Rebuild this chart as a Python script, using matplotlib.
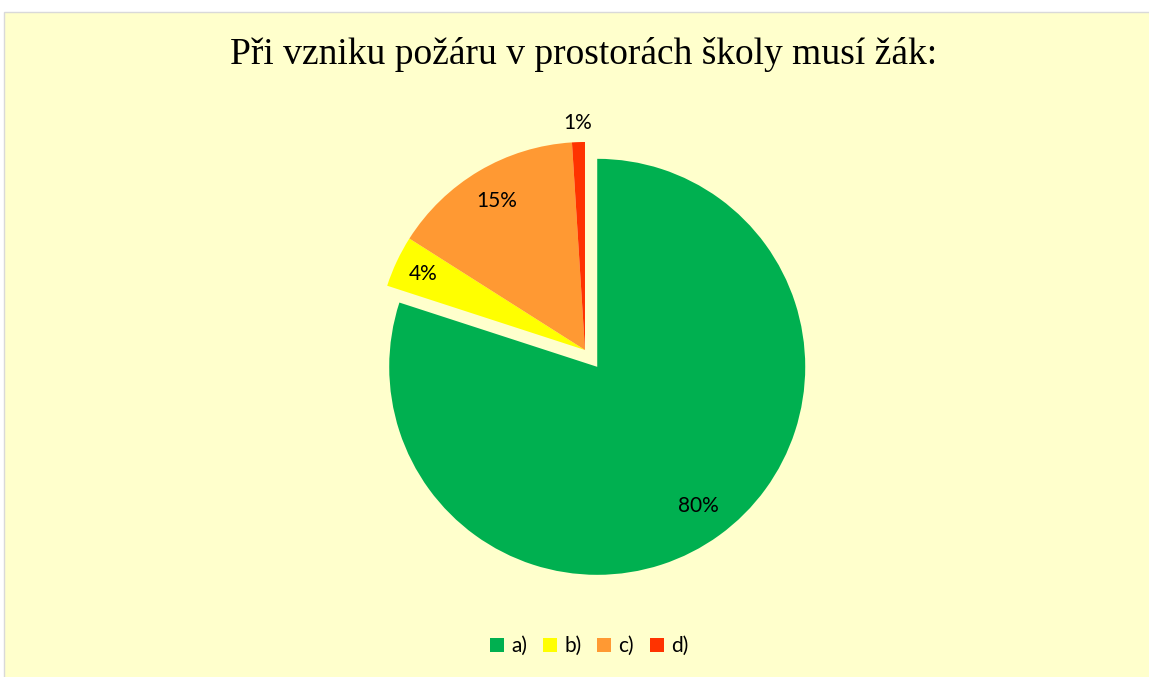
import matplotlib
matplotlib.use("Agg")
import matplotlib.pyplot as plt
import matplotlib.patches as mpatches
import numpy as np

labels = ["a)", "b)", "c)", "d)"]
values = [80, 4, 15, 1]
colors = ["#00B050", "#FFFF00", "#FF9933", "#FF3300"]
explode = [0.1, 0, 0, 0]
title = "Při vzniku požáru v prostorách školy musí žák:"

W, H = 1149, 677
fig = plt.figure(figsize=(W / 100, H / 100), dpi=100)
fig.patch.set_facecolor("white")

# chart area background
bg = mpatches.Rectangle((4 / W, -0.01), 1.02 - 4 / W, 1 - 12 / H + 0.01,
                        transform=fig.transFigure, facecolor="#FFFFCC",
                        edgecolor="#D9D9D9", linewidth=1.0, zorder=-10)
fig.patches.append(bg)

cx, cy, R = 585, 350, 208
lim = 1.3
size = 2 * lim * R
ax = fig.add_axes([(cx - size / 2) / W, (H - cy - size / 2) / H, size / W, size / H])
ax.set_facecolor("none")

wedges, texts, autotexts = ax.pie(
    values, colors=colors, explode=explode, startangle=90, counterclock=False,
    autopct=lambda p: f"{p:.0f}%", pctdistance=0.83,
    textprops=dict(fontsize=15, family="Lato", color="#000000"),
    wedgeprops=dict(linewidth=0))
ax.set_xlim(-lim, lim)
ax.set_ylim(-lim, lim)
ax.set_aspect("equal")
ax.axis("off")

# small slice label outside
w = wedges[3]
ang = np.deg2rad((w.theta1 + w.theta2) / 2)
autotexts[3].set_position((1.09 * np.cos(ang), 1.09 * np.sin(ang)))
w = wedges[1]
ang = np.deg2rad((w.theta1 + w.theta2) / 2)
autotexts[1].set_position((0.86 * np.cos(ang), 0.86 * np.sin(ang)))

fig.text(584 / W, 1 - 55 / H, title, ha="center", va="center",
         fontsize=27, family="Liberation Serif", color="#000000")

handles = [mpatches.Patch(facecolor=c, edgecolor="none") for c in colors]
fig.legend(handles, labels, loc="center", bbox_to_anchor=(589 / W, 1 - 646 / H),
           ncol=4, frameon=False, handlelength=0.68, handleheight=0.68,
           handletextpad=0.35, columnspacing=0.75,
           prop=dict(family="Lato", size=15))

fig.savefig("out.png", dpi=100)
